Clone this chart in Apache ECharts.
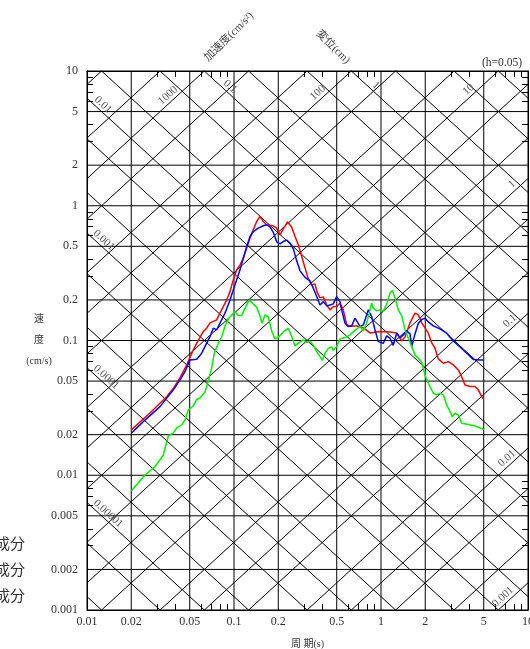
<!DOCTYPE html>
<html><head><meta charset="utf-8">
<script src="https://cdn.jsdelivr.net/npm/echarts@6/dist/echarts.min.js"></script>
<style>html,body{margin:0;padding:0;background:#fff;}#c{width:530px;height:649px;}</style>
</head><body><div id="c"></div>
<script>
// ---- axis ticks / labels ----
const xTickLabels = [0.01,0.02,0.05,0.1,0.2,0.5,1,2,5,10];
const yTickLabels = [0.001,0.002,0.005,0.01,0.02,0.05,0.1,0.2,0.5,1,2,5,10];
const xMinorTicks = [0.03,0.04,0.06,0.07,0.08,0.09,0.3,0.4,0.6,0.7,0.8,0.9,3,4,6,7,8,9];
const yMinorTicks = [0.003,0.004,0.006,0.007,0.008,0.009,0.03,0.04,0.06,0.07,0.08,0.09,0.3,0.4,0.6,0.7,0.8,0.9,3,4,6,7,8,9];
// ---- tripartite diagonal lines (acceleration cm/s2, displacement cm) ----
const accelLines = [0.001,0.002,0.005,0.01,0.02,0.05,0.1,0.2,0.5,1,2,5,10,20,50,100,200,500,1000,2000,5000];
const dispLines = [0.000002,0.000005,0.00001,0.00002,0.00005,0.0001,0.0002,0.0005,0.001,0.002,0.005,0.01,0.02,0.05,0.1,0.2,0.5,1,2,5,10];
// label text, period where label sits on its line
const accelLabels = [['1000',0.0381],['100',0.399],['10',4.22],['1',8.34],['0.1',8.08],['0.01',7.71],['0.001',7.24]];
const dispLabels = [['0.01',0.01205],['0.001',0.0122],['0.0001',0.01265],['0.00001',0.01305],['0.1',0.0882],['1',0.867]];
// ---- series data: period (s) and velocity (cm/s) ----
const redT = [0.02,0.0268,0.0348,0.0387,0.0429,0.0477,0.0516,0.0558,0.0618,0.0652,0.0687,0.0763,0.0803,0.0846,0.0892,0.0939,0.0989,0.1043,0.1099,0.1157,0.122,0.1285,0.1353,0.1427,0.1502,0.1582,0.1668,0.185,0.1951,0.2055,0.2164,0.2312,0.247,0.2601,0.2739,0.2888,0.3041,0.3202,0.3377,0.3557,0.367,0.3846,0.405,0.4272,0.4498,0.4737,0.4996,0.526,0.5539,0.5842,0.6152,0.6834,0.7579,0.8417,0.9845,1.151,1.279,1.383,1.457,1.575,1.703,1.794,1.892,2.098,2.213,2.33,2.454,2.654,2.87,3.104,3.357,3.54,3.728,4.031,4.36,4.591,4.842,5.0];
const redV = [0.0217,0.0290,0.0383,0.0442,0.0528,0.0659,0.0805,0.0955,0.1165,0.1234,0.1351,0.1422,0.1603,0.1786,0.2001,0.2307,0.2819,0.3345,0.3643,0.4085,0.4847,0.5751,0.6630,0.7640,0.8349,0.7640,0.7224,0.7102,0.6828,0.6085,0.6747,0.7601,0.6922,0.5910,0.5129,0.4199,0.3461,0.2867,0.2587,0.2632,0.2296,0.2071,0.2107,0.1837,0.1687,0.1786,0.1786,0.1892,0.1687,0.1305,0.1283,0.1283,0.1241,0.1139,0.1165,0.1158,0.1139,0.0993,0.1064,0.1351,0.1595,0.1549,0.1351,0.1133,0.0960,0.0877,0.0730,0.0678,0.0697,0.0659,0.0605,0.0539,0.0468,0.0455,0.0455,0.0430,0.0383,0.0367];
const blueT = [0.02,0.02416,0.03138,0.03865,0.04292,0.04642,0.0502,0.05577,0.0603,0.0652,0.06867,0.0723,0.07627,0.08031,0.08685,0.09393,0.09891,0.1043,0.1099,0.1157,0.122,0.1285,0.1353,0.1463,0.1582,0.1668,0.1757,0.185,0.1951,0.2055,0.2164,0.2283,0.2405,0.2532,0.2671,0.2812,0.3041,0.3289,0.3463,0.3652,0.3846,0.405,0.4272,0.4498,0.4737,0.4996,0.526,0.5402,0.569,0.5992,0.6319,0.6653,0.6897,0.7197,0.7579,0.7989,0.8192,0.8642,0.9103,0.9586,1.037,1.093,1.151,1.212,1.279,1.347,1.418,1.496,1.575,1.618,1.703,1.794,1.892,1.993,2.098,2.269,2.52,2.799,3.104,3.447,3.828,4.246,4.715,5.0];
const blueV = [0.0205,0.0250,0.0323,0.0430,0.0510,0.0587,0.0718,0.0726,0.0805,0.0955,0.1069,0.1234,0.1198,0.1344,0.1595,0.2001,0.2375,0.2819,0.3345,0.4085,0.4981,0.5910,0.6439,0.6828,0.7102,0.7224,0.6981,0.6352,0.5400,0.5218,0.5425,0.5557,0.5281,0.4789,0.3901,0.3288,0.2942,0.2771,0.2445,0.2118,0.1837,0.1944,0.1807,0.1837,0.1869,0.2118,0.1934,0.1687,0.1344,0.1268,0.1283,0.1464,0.1374,0.1268,0.1305,0.1549,0.1687,0.1505,0.1198,0.0981,0.0955,0.1082,0.1040,0.0920,0.1133,0.1045,0.1100,0.1178,0.1119,0.0901,0.1119,0.1344,0.1434,0.1464,0.1374,0.1283,0.1220,0.1133,0.0993,0.0896,0.0805,0.0724,0.0718,0.0718];
const greenT = [0.02,0.0248,0.02902,0.03304,0.03573,0.03865,0.04076,0.04407,0.04642,0.04889,0.05286,0.05577,0.0587,0.06348,0.06684,0.0705,0.07343,0.07817,0.08244,0.08685,0.09145,0.09646,0.1016,0.107,0.1128,0.1201,0.1271,0.1353,0.1427,0.1502,0.155,0.1625,0.1711,0.1805,0.1901,0.2001,0.2164,0.2341,0.247,0.2601,0.2739,0.2961,0.3123,0.3289,0.3463,0.3652,0.3846,0.3987,0.416,0.438,0.462,0.4737,0.4996,0.526,0.5539,0.5842,0.6152,0.6653,0.7197,0.7579,0.7989,0.8285,0.8642,0.8863,0.9349,0.9845,1.037,1.093,1.151,1.194,1.245,1.312,1.383,1.457,1.534,1.618,1.703,1.794,1.892,1.993,2.098,2.269,2.393,2.52,2.654,2.799,2.948,3.055,3.187,3.357,3.54,3.925,4.36,5.0];
const greenV = [0.00764,0.01004,0.01157,0.01414,0.01957,0.02061,0.02243,0.02362,0.02572,0.03052,0.03268,0.03652,0.03747,0.04152,0.05011,0.06258,0.0805,0.0955,0.1064,0.1283,0.1446,0.1549,0.1630,0.1536,0.1536,0.1777,0.2001,0.1869,0.1761,0.1523,0.1344,0.1549,0.1497,0.1178,0.1028,0.1055,0.1158,0.1234,0.1069,0.0912,0.0955,0.1010,0.0968,0.0993,0.0920,0.0827,0.0759,0.0712,0.0805,0.0874,0.0896,0.0844,0.0901,0.1028,0.1045,0.1064,0.1100,0.1188,0.1272,0.1188,0.1344,0.1576,0.1892,0.1737,0.1659,0.1687,0.1644,0.1869,0.2245,0.2347,0.2071,0.1687,0.1523,0.1198,0.1040,0.0901,0.0782,0.0739,0.0694,0.0555,0.0482,0.0406,0.0395,0.0406,0.0395,0.0332,0.0297,0.0272,0.0289,0.0280,0.0243,0.0238,0.0232,0.0219];
const seriesNames = ['NS成分','EW成分','UD成分'];

const FONT = "'Liberation Serif','Noto Sans CJK JP',serif";
const C = Math.log10(2 * Math.PI);
const fmt = v => String(parseFloat((+v).toPrecision(6)));

// lattice segments [T0,V0,T1,V1]
const lattice = [];
xTickLabels.forEach(T => lattice.push([T, 0.001, T, 10]));
yTickLabels.forEach(V => lattice.push([0.01, V, 10, V]));
function seg(lo, hi, f) { return [Math.pow(10, lo), Math.pow(10, f(lo)), Math.pow(10, hi), Math.pow(10, f(hi))]; }
accelLines.forEach(A => {
  const a = Math.log10(A);
  const lo = Math.max(-2, -3 - a + C), hi = Math.min(1, 1 - a + C);
  if (hi > lo) lattice.push(seg(lo, hi, t => a + t - C));
});
dispLines.forEach(D => {
  const d = Math.log10(D);
  const lo = Math.max(-2, d + C - 1), hi = Math.min(1, d + C + 3);
  if (hi > lo) lattice.push(seg(lo, hi, t => d + C - t));
});
// diagonal labels: [T, V, index, kind]
const labelTexts = [];
const labelData = [];
accelLabels.forEach(([s, T]) => { labelData.push([T, (+s) * T / (2 * Math.PI), labelTexts.length, 0]); labelTexts.push(s); });
dispLabels.forEach(([s, T]) => { labelData.push([T, 2 * Math.PI * (+s) / T, labelTexts.length, 1]); labelTexts.push(s); });

const chart = echarts.init(document.getElementById('c'), null, { renderer: 'canvas' });
const axisLineStyle = { show: true, onZero: false, lineStyle: { color: '#000', width: 1 } };
const ANG = Math.atan(134.65 / 147);
chart.setOption({
  animation: false,
  backgroundColor: '#fff',
  grid: { left: 87, right: 2, top: 71, bottom: 39, containLabel: false, outerBoundsMode: 'none' },
  xAxis: [
    { type: 'log', logBase: 10, min: 0.01, max: 10, position: 'bottom',
      name: '周 期(s)', nameLocation: 'middle', nameGap: 29, nameMoveOverlap: false,
      nameTextStyle: { fontSize: 10, color: '#333', fontFamily: FONT },
      axisLine: axisLineStyle,
      axisTick: { show: true, inside: true, length: 6, customValues: xMinorTicks, lineStyle: { color: '#000' } },
      axisLabel: { show: true, customValues: xTickLabels, formatter: fmt, margin: 6, fontSize: 12, color: '#333', fontFamily: FONT, hideOverlap: false },
      splitLine: { show: false } },
    { type: 'log', logBase: 10, min: 0.01, max: 10, position: 'top',
      axisLine: axisLineStyle,
      axisTick: { show: true, inside: true, length: 6, customValues: xMinorTicks, lineStyle: { color: '#000' } },
      axisLabel: { show: false }, splitLine: { show: false } }
  ],
  yAxis: [
    { type: 'log', logBase: 10, min: 0.001, max: 10, position: 'left',
      name: '速\n度\n(cm/s)', nameLocation: 'middle', nameGap: 48, nameRotate: 0, nameMoveOverlap: false,
      nameTextStyle: { fontSize: 10, color: '#333', fontFamily: FONT, align: 'center', verticalAlign: 'middle', lineHeight: 21 },
      axisLine: axisLineStyle,
      axisTick: { show: true, inside: true, length: 6, customValues: yMinorTicks, lineStyle: { color: '#000' } },
      axisLabel: { show: true, customValues: yTickLabels, formatter: fmt, margin: 9, fontSize: 12, color: '#333', fontFamily: FONT, hideOverlap: false },
      splitLine: { show: false } },
    { type: 'log', logBase: 10, min: 0.001, max: 10, position: 'right',
      axisLine: axisLineStyle,
      axisTick: { show: true, inside: true, length: 6, customValues: yMinorTicks, lineStyle: { color: '#000' } },
      axisLabel: { show: false }, splitLine: { show: false } }
  ],
  series: [
    { type: 'custom', name: 'lattice', silent: true, z: 1,
      dimensions: ['t0', 'v0', 't1', 'v1'], encode: { x: [0, 2], y: [1, 3] },
      data: lattice,
      renderItem: (p, api) => {
        const a = api.coord([api.value(0), api.value(1)]);
        const b = api.coord([api.value(2), api.value(3)]);
        return { type: 'line', shape: { x1: a[0], y1: a[1], x2: b[0], y2: b[1] }, style: { stroke: '#000', lineWidth: 1 } };
      } },
    { type: 'custom', name: 'diagLabels', silent: true, z: 2,
      dimensions: ['t', 'v', 'i', 'k'], encode: { x: 0, y: 1 },
      data: labelData,
      renderItem: (p, api) => {
        const pt = api.coord([api.value(0), api.value(1)]);
        const k = api.value(3);
        const off = k === 0 ? [-4.4, -4.8] : [4.1, -4.4];
        return { type: 'text', x: pt[0] + off[0], y: pt[1] + off[1], rotation: k === 0 ? ANG : -ANG,
          style: { text: labelTexts[api.value(2)], fill: '#555', font: "11px 'Liberation Serif'", align: 'center', verticalAlign: 'middle' } };
      } },
    { type: 'line', name: seriesNames[0], data: redT.map((t, i) => [t, redV[i]]), symbol: 'none', z: 5,
      lineStyle: { color: '#ff0000', width: 1.5 }, itemStyle: { color: '#ff0000' } },
    { type: 'line', name: seriesNames[1], data: blueT.map((t, i) => [t, blueV[i]]), symbol: 'none', z: 5,
      lineStyle: { color: '#0000ff', width: 1.5 }, itemStyle: { color: '#0000ff' } },
    { type: 'line', name: seriesNames[2], data: greenT.map((t, i) => [t, greenV[i]]), symbol: 'none', z: 5,
      lineStyle: { color: '#00ee00', width: 1.5 }, itemStyle: { color: '#00ee00' } }
  ],
  graphic: [
    { type: 'text', x: 229, y: 37, rotation: Math.PI / 4, silent: true,
      style: { text: '加速度(cm/s²)', font: "11px " + FONT, fill: '#444', align: 'center', verticalAlign: 'middle' } },
    { type: 'text', x: 333, y: 47, rotation: -Math.PI / 4, silent: true,
      style: { text: '変位(cm)', font: "11px " + FONT, fill: '#444', align: 'center', verticalAlign: 'middle' } },
    { type: 'text', x: 502, y: 63, silent: true,
      style: { text: '(h=0.05)', font: "11.5px " + FONT, fill: '#333', align: 'center', verticalAlign: 'middle' } },
    { type: 'text', x: 25, y: 545, silent: true,
      style: { text: seriesNames[0], font: "15px " + FONT, fill: '#333', align: 'right', verticalAlign: 'middle' } },
    { type: 'text', x: 25, y: 571, silent: true,
      style: { text: seriesNames[1], font: "15px " + FONT, fill: '#333', align: 'right', verticalAlign: 'middle' } },
    { type: 'text', x: 25, y: 597, silent: true,
      style: { text: seriesNames[2], font: "15px " + FONT, fill: '#333', align: 'right', verticalAlign: 'middle' } }
  ]
});
</script></body></html>
